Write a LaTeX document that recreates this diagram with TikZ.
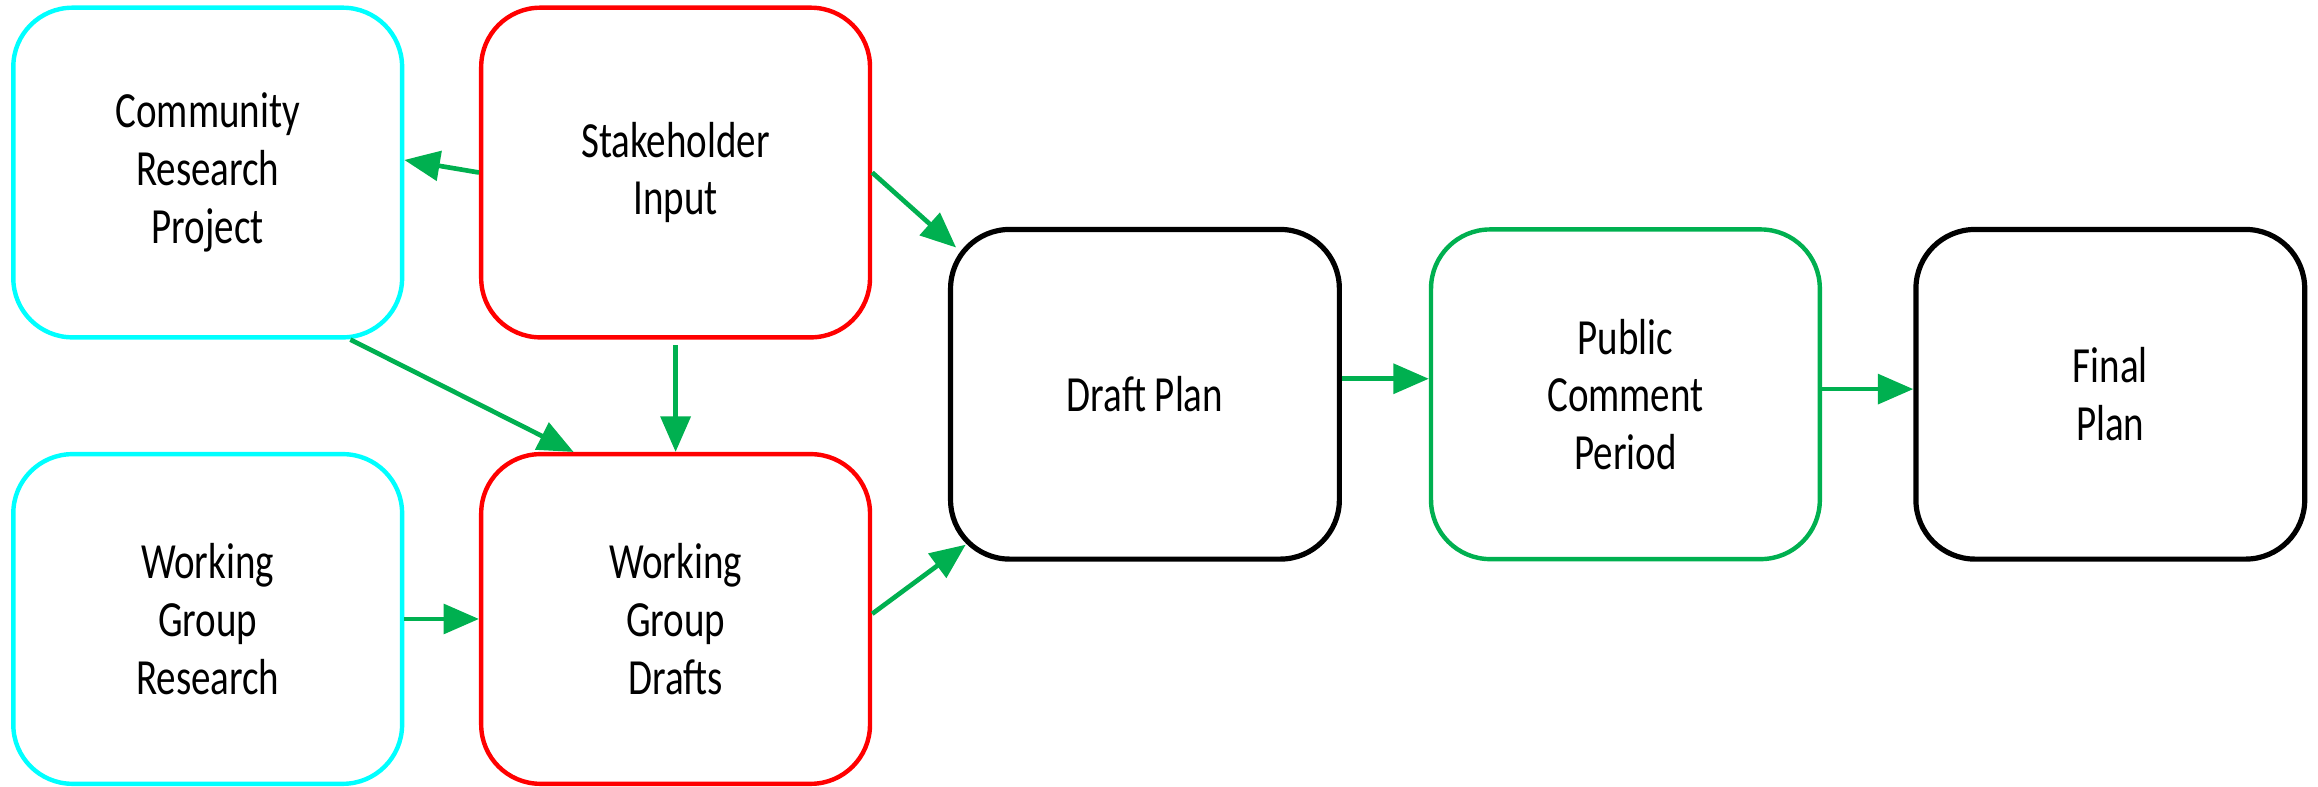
\documentclass[tikz,border=0pt]{standalone}
\usepackage{fontspec}
\setmainfont{Carlito}[FakeStretch=0.77]
\usetikzlibrary{positioning,arrows.meta}
\definecolor{boxcyan}{HTML}{00FFFF}
\definecolor{boxred}{HTML}{FF0000}
\definecolor{flowgreen}{HTML}{00B050}

\begin{document}
\begin{tikzpicture}[on grid,auto,
    stage/.style={draw,rounded corners=0.8cm,line width=1.7pt,minimum width=5.26cm,
      minimum height=4.46cm,align=center,font=\fontsize{19.5}{22.2}\selectfont},
    flow/.style={-{Triangle[length=0.48cm,width=0.4cm]},color=flowgreen,line width=1.8pt}]
       \useasboundingbox (0,0) rectangle (31.36,10.634);
       \node [stage,draw=boxcyan] (comm) at (2.81,8.30) {Community\\Research\\Project};
       \node [stage,draw=boxred, right=6.33cm of comm] (stk) {Stakeholder\\Input};
       \node [stage,draw=boxcyan, below=6.04cm of comm] (wgr) {Working\\Group\\Research};
       \node [stage,draw=boxred, right=6.33cm of wgr] (wgd) {Working\\Group\\Drafts};
       \node [stage,draw=black,line width=2pt, below right=3cm and 6.35cm of stk] (draft) {Draft Plan};
       \node [stage,draw=flowgreen, right=6.5cm of draft] (pcp) {Public\\Comment\\Period};
       \node [stage,draw=black,line width=2pt, right=6.56cm of pcp] (final) {Final\\Plan};
        \path[flow]
        (stk.west) edge ([yshift=0.17cm]comm.east)
        (stk.east) edge ([xshift=0.11cm,yshift=-0.28cm]draft.north west)
        ([xshift=1.93cm]comm.south) edge ([xshift=-1.38cm]wgd.north)
        ([yshift=-0.08cm]stk.south) edge (wgd.north)
        (wgr.east) edge (wgd.west)
        ([yshift=0.07cm]wgd.east) edge ([xshift=0.24cm,yshift=0.23cm]draft.south west)
        ([yshift=0.21cm]draft.east) edge ([yshift=0.21cm]pcp.west)
        ([yshift=0.07cm]pcp.east) edge ([yshift=0.07cm]final.west);
    \end{tikzpicture}
\end{document}
